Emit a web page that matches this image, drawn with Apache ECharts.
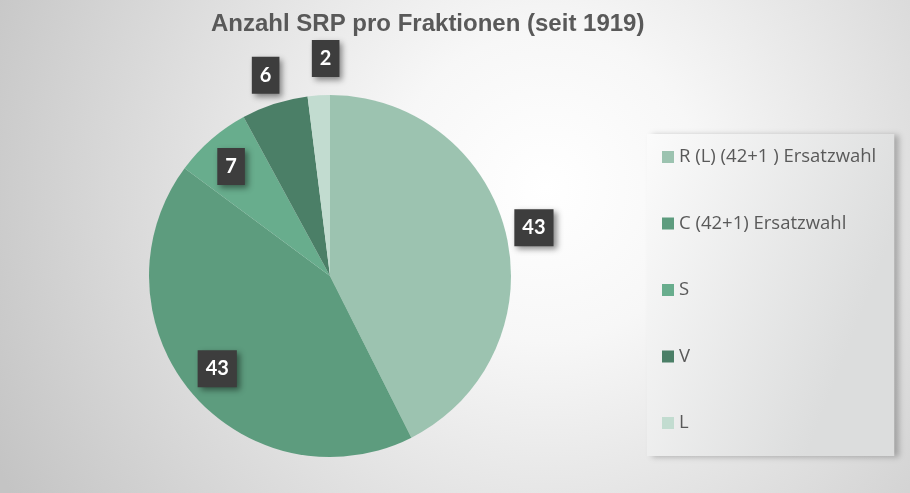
<!DOCTYPE html>
<html>
<head>
<meta charset="utf-8">
<script src="https://cdn.jsdelivr.net/npm/echarts@6/dist/echarts.min.js"></script>
<style>
  html, body { margin: 0; padding: 0; background: #fff; }
  #chart { width: 910px; height: 493px; }
</style>
</head>
<body>
<div id="chart"></div>
<script>
// Daten
const categories = ['R (L) (42+1 ) Ersatzwahl', 'C (42+1) Ersatzwahl', 'S', 'V', 'L'];
const values = [43, 43, 7, 6, 2];
const colors = ['#9cc3b0', '#5d9c7e', '#68ad8d', '#4b7f67', '#c2dcd0'];

// Lage der Datenbeschriftungen (Länge der unsichtbaren Führungslinie)
const labelLen = [28, -37, -36, 30, 37];
const labelShift = [-24, -22, -15, -19, -28];

const chart = echarts.init(document.getElementById('chart'));

const pieData = categories.map(function (name, i) {
    return {
        name: name,
        value: values[i],
        itemStyle: { color: colors[i] },
        labelLine: { show: false, length: labelLen[i], length2: labelShift[i] }
    };
});

const option = {
    backgroundColor: {
        type: 'radial',
        x: 0.6, y: 0.38, r: 1.25,
        colorStops: [
            { offset: 0, color: '#ffffff' },
            { offset: 0.25, color: '#f7f7f7' },
            { offset: 1, color: '#c4c4c4' }
        ]
    },
    title: {
        text: 'Anzahl SRP pro Fraktionen (seit 1919)',
        left: 206,
        top: 7,
        textStyle: {
            fontFamily: 'Liberation Sans',
            fontSize: 24,
            fontWeight: 'bold',
            color: '#595959'
        }
    },
    legend: {
        orient: 'vertical',
        left: 647,
        top: 134,
        padding: [13, 18, 23, 15],
        itemWidth: 12,
        itemHeight: 12,
        itemGap: 46.5,
        icon: 'rect',
        backgroundColor: {
            type: 'linear', x: 0, y: 0, x2: 1, y2: 0.3,
            colorStops: [
                { offset: 0, color: '#fbfbfb' },
                { offset: 1, color: '#dcdddd' }
            ]
        },
        shadowColor: 'rgba(0,0,0,0.25)',
        shadowBlur: 6,
        shadowOffsetX: 5,
        shadowOffsetY: 1,
        textStyle: {
            fontFamily: 'Open Sans',
            fontSize: 18.5,
            lineHeight: 20,
            color: '#595959'
        },
        data: categories
    },
    series: [
        {
            type: 'pie',
            center: [330, 276],
            radius: 181,
            startAngle: 90,
            clockwise: true,
            avoidLabelOverlap: false,
            animation: false,
            data: pieData,
            label: {
                show: true,
                position: 'outside',
                formatter: '{c}',
                fontFamily: 'Lato',
                fontSize: 20,
                fontWeight: 'bold',
                color: '#ffffff',
                lineHeight: 22,
                backgroundColor: '#3d3d3d',
                padding: [8, 8, 7, 8],
                shadowColor: 'rgba(0,0,0,0.45)',
                shadowBlur: 6,
                shadowOffsetX: 3,
                shadowOffsetY: 3
            },
            emphasis: { disabled: true }
        }
    ]
};

chart.setOption(option);
</script>
</body>
</html>
